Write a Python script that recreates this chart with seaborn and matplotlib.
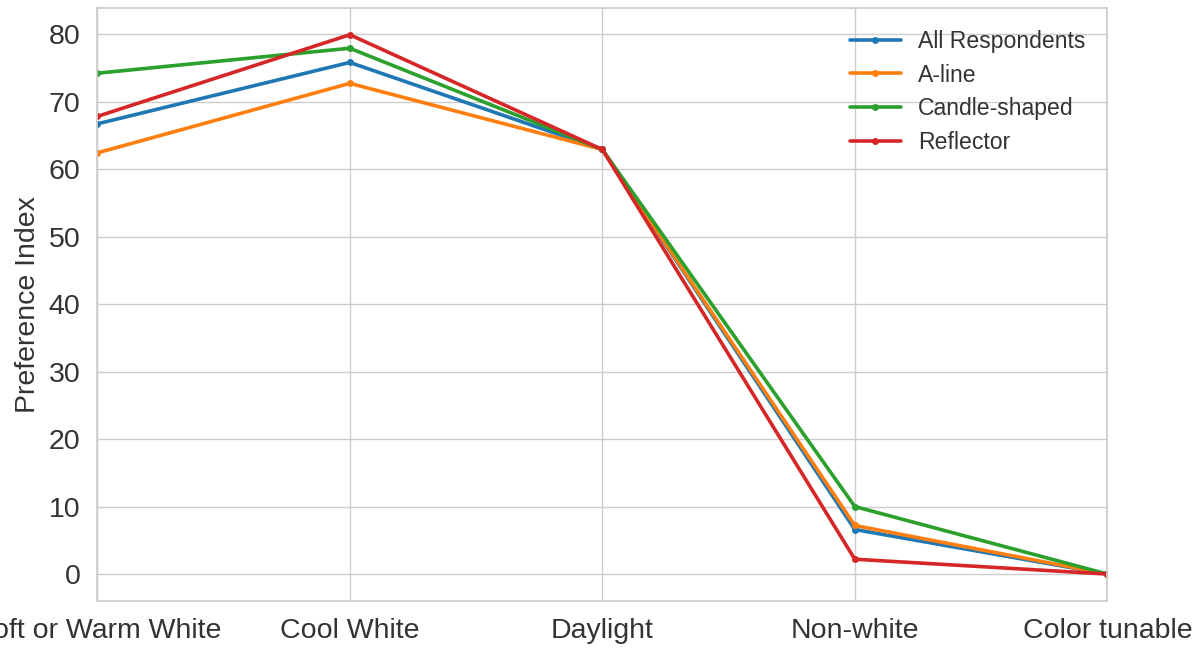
import pandas as pd
import matplotlib

matplotlib.use("Agg")

import matplotlib.pyplot as plt
import seaborn as sns

categories = ["Soft or Warm White", "Cool White", "Daylight", "Non-white", "Color tunable"]
all_respondents = [66.7, 75.8, 62.9, 6.6, 0.0]
a_line = [62.4, 72.7, 62.9, 7.2, 0.0]
candle_shaped = [74.2, 77.9, 62.9, 10.0, 0.0]
reflector = [67.8, 79.9, 62.9, 2.2, 0.0]

series = {
    "All Respondents": all_respondents,
    "A-line": a_line,
    "Candle-shaped": candle_shaped,
    "Reflector": reflector,
}

rows = []
for name, vals in series.items():
    for i, (cat, v) in enumerate(zip(categories, vals)):
        rows.append({"pos": i, "Lamp": name, "Preference Index": v})
df = pd.DataFrame(rows)

sns.set_theme(style="whitegrid")
plt.rcParams['font.family'] = ['Liberation Sans', 'DejaVu Sans']
plt.rcParams['axes.edgecolor'] = '#cccccc'

fig, ax = plt.subplots(figsize=(12.01, 6.48), dpi=100)
fig.subplots_adjust(left=0.081, right=0.922, top=0.988, bottom=0.0725)

sns.lineplot(data=df, x="pos", y="Preference Index", hue="Lamp",
             hue_order=list(series.keys()), palette="tab10",
             marker="o", markersize=5, markeredgewidth=0, linewidth=2.6,
             sort=False, ax=ax)

ax.set_xlim(0, len(categories) - 1)
ax.set_xticks(range(len(categories)))
ax.set_xticklabels(categories)
ax.set_xlabel("")
ax.set_ylabel("Preference Index", fontsize=20.5, color="#333333", labelpad=6)
ax.tick_params(axis="both", labelsize=20.5, colors="#333333", pad=6)
for s in ax.spines.values():
    s.set_color("#cccccc")

leg = ax.legend(loc="upper right", frameon=False, fontsize=16.6,
                handlelength=2.2, labelspacing=0.47, handletextpad=0.75,
                borderaxespad=0.55)
for t in leg.get_texts():
    t.set_color("#333333")

plt.savefig("out.png", dpi=100)
